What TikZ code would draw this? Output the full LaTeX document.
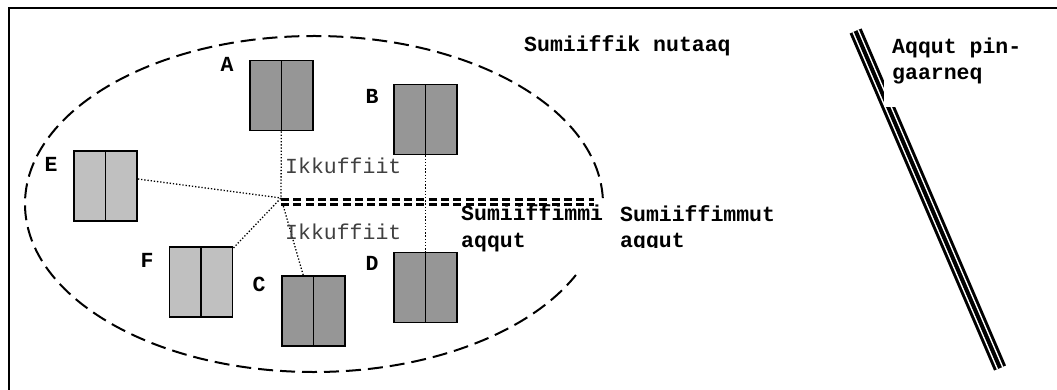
\documentclass[tikz,border=0pt]{standalone}
\usepackage{fontspec}
\newfontfamily\cour{Liberation Mono}
\usetikzlibrary{graphs}
\definecolor{cabdark}{HTML}{969696}
\definecolor{cablight}{HTML}{C0C0C0}

\begin{document}
\begin{tikzpicture}[
                x=1pt, y=-1pt,
                cabinet/.style={
                    draw, line width=1.9pt, inner sep=0pt,
                    minimum width=63pt, minimum height=70pt,
                    path picture={\draw[line width=1.9pt]
                        (path picture bounding box.north) -- (path picture bounding box.south);},
                },
                dark/.style={cabinet, fill=cabdark},
                light/.style={cabinet, fill=cablight},
                tag/.style={font=\cour\bfseries\fontsize{21.5}{26}\selectfont, inner sep=0pt},
                note/.style={tag, anchor=base west, align=left},
                plain/.style={note, font=\cour\fontsize{21.5}{26}\selectfont, text=black!75},
                link/.style={line width=1.3pt, dash pattern=on 1.3pt off 1.9pt},
            ]
            \useasboundingbox (0,0) rectangle (1057,390);
            \draw[line width=2pt] (9.3,400) |- (1070,8.5);

            % old site
            \coordinate (c) at (314,204);
            \draw[line width=2pt, dash pattern=on 15pt off 7pt]
                ([shift={(2:289pt and 168pt)}]c)
                arc[start angle=2, end angle=335, x radius=289pt, y radius=168pt];

            \node[dark] (A) at (281.5,95.5) {};
            \node[dark] (B) at (425.5,119.5) {};
            \node[dark] (C) at (313.5,311) {};
            \node[dark] (D) at (425.5,287.5) {};
            \node[light] (E) at (105.5,186) {};
            \node[light] (F) at (201,282) {};

            \node[tag] (lA) at (227,64) {A};
            \node[tag] (lB) at (372,96) {B};
            \node[tag] (lC) at (259,284) {C};
            \node[tag] (lD) at (372,263) {D};
            \node[tag] (lE) at (51,164) {E};
            \node[tag] (lF) at (147,260) {F};

            \coordinate (j) at (281,198);
            \coordinate (d1) at (281,202);
            \coordinate (d2) at (594,202);

            \graph[use existing nodes]{
                A --[link] j;
                B --[link] D;
                F --[link] j;
                C --[link] j;
            } ;
            \draw[link] ([yshift=7pt]E.east) -- (j);
            \draw[line width=2.4pt, double, double distance=2.4pt,
                dash pattern=on 8pt off 4.3pt] (d1) -- (d2);

            \node[plain] (ik1) at (285,174) {Ikkuffiit};
            \node[plain] (ik2) at (285,240) {Ikkuffiit};
            \node[note] (new) at (524,52) {Sumiiffik nutaaq};
            \node[note] (mi) at (461,247) {Sumiiffimmi\\aqqut};
            \begin{scope}
                \clip (600,190) rectangle (820,247);
                \node[note] (mut) at (620,247.5) {Sumiiffimmut\\aqqut};
            \end{scope}

            % boundary
            \coordinate (t1) at (855.6,31);
            \coordinate (t2) at (1000,368);
            \draw[line width=4pt,
                preaction={draw, line width=13pt},
                preaction={draw=white, line width=7pt}] (t1) -- (t2);
            \fill[white] (884,62) rectangle (1057,107);
            \node[note] (pin) at (892,79.5) {Aqqut pin-\\gaarneq};
        \end{tikzpicture}
\end{document}
